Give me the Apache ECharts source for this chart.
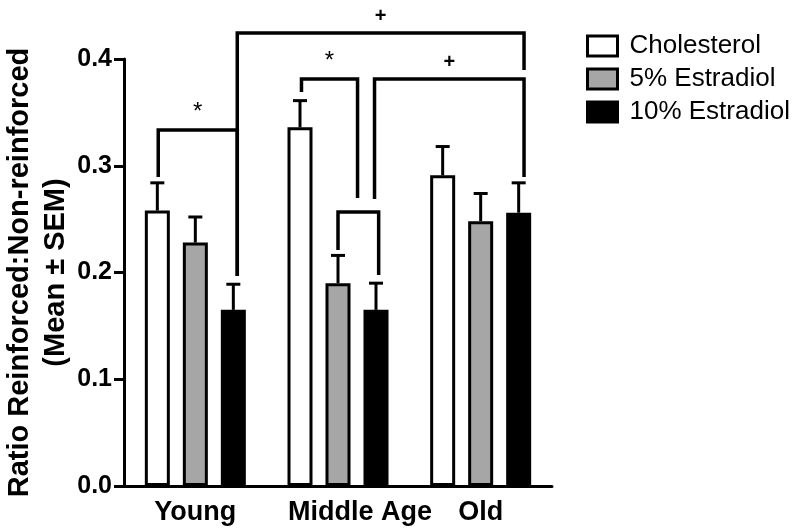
<!DOCTYPE html>
<html><head><meta charset="utf-8">
<script src="https://cdn.jsdelivr.net/npm/echarts@6/dist/echarts.min.js"></script>
<style>html,body{margin:0;padding:0;background:#fff}#c{width:800px;height:532px}</style>
</head><body><div id="c"></div>
<script>
// ---- data ----
const categories = ['Young', 'Middle Age', 'Old'];
const seriesNames = ['Cholesterol', '5% Estradiol', '10% Estradiol'];
const cholesterolMean = [0.258, 0.336, 0.291];
const cholesterolSem  = [0.026, 0.025, 0.027];
const estradiol5Mean  = [0.228, 0.190, 0.248];
const estradiol5Sem   = [0.024, 0.026, 0.026];
const estradiol10Mean = [0.165, 0.165, 0.256];
const estradiol10Sem  = [0.024, 0.025, 0.028];
const yTicks = [0, 0.1, 0.2, 0.3, 0.4];
// significance brackets (x in category units, heights in ratio units)
const bracketLabels = ['*', '+', '*', '', '+'];
const bracketX1   = [-0.26, 0.294, 0.744, 1.0, 1.256];
const bracketX2   = [0.294, 2.304, 1.137, 1.285, 2.304];
const bracketTop  = [0.3335, 0.4244, 0.3813, 0.2567, 0.3813];
const bracketEnd1 = [0.2895, 0.1967, 0.369, 0.2211, 0.2689];
const bracketEnd2 = [0.1967, 0.3897, 0.2698, 0.1977, 0.2895];

// ---- styling ----
const FONT = '"Liberation Sans", Arial, sans-serif';
const fills = ['#ffffff', '#a6a6a6', '#000000'];
const BAR_WIDTH = 25;
const BAR_GAP = 0.52;

const means = [cholesterolMean, estradiol5Mean, estradiol10Mean];
const sems = [cholesterolSem, estradiol5Sem, estradiol10Sem];

const barSeries = seriesNames.map((name, s) => ({
  type: 'bar', name: name, data: means[s],
  barWidth: BAR_WIDTH, barGap: (BAR_GAP * 100) + '%',
  itemStyle: { color: fills[s], borderColor: '#000', borderWidth: 3 },
  z: 3
}));

const errData = [];
categories.forEach((c, ci) => {
  for (let s = 0; s < 3; s++) errData.push([ci, s, means[s][ci], means[s][ci] + sems[s][ci]]);
});

const errSeries = {
  type: 'custom', data: errData, encode: { x: 0, y: 3 }, z: 2, clip: false,
  renderItem: function (params, api) {
    const c = api.value(0), s = api.value(1);
    const off = (s - 1) * BAR_WIDTH * (1 + BAR_GAP);
    const p0 = api.coord([c, api.value(2)]);
    const p1 = api.coord([c, api.value(3)]);
    const x = p0[0] + off;
    return { type: 'group', children: [
      { type: 'line', shape: { x1: x, y1: p0[1], x2: x, y2: p1[1] }, style: { stroke: '#000', lineWidth: 3 } },
      { type: 'line', shape: { x1: x - 7, y1: p1[1], x2: x + 7, y2: p1[1] }, style: { stroke: '#000', lineWidth: 3 } }
    ] };
  }
};

const bracketData = bracketLabels.map((l, i) => [bracketX1[i], bracketX2[i], bracketTop[i], bracketEnd1[i], bracketEnd2[i]]);

const bracketSeries = {
  type: 'custom', xAxisIndex: 1, yAxisIndex: 0, data: bracketData,
  encode: { x: [0, 1], y: 2 }, z: 4, clip: false,
  renderItem: function (params, api) {
    const i = params.dataIndex;
    const a = api.coord([api.value(0), api.value(2)]);
    const b = api.coord([api.value(1), api.value(2)]);
    const e1 = api.coord([api.value(0), api.value(3)]);
    const e2 = api.coord([api.value(1), api.value(4)]);
    const children = [{
      type: 'polyline',
      shape: { points: [[a[0], e1[1]], [a[0], a[1]], [b[0], b[1]], [b[0], e2[1]]] },
      style: { stroke: '#000', lineWidth: 3.5, fill: null, lineJoin: 'miter' }
    }];
    const lab = bracketLabels[i];
    if (lab) {
      const isStar = lab === '*';
      children.push({
        type: 'text', x: (a[0] + b[0]) / 2, y: a[1] - 6,
        style: { text: lab, fill: '#000', font: (isStar ? 'normal 24px ' : 'bold 20px ') + FONT,
                 align: 'center', verticalAlign: 'bottom' }
      });
    }
    return { type: 'group', children: children };
  }
};

const chart = echarts.init(document.getElementById('c'), null, { renderer: 'canvas' });
chart.setOption({
  animation: false,
  backgroundColor: '#fff',
  textStyle: { fontFamily: FONT },
  grid: { left: 124, top: 59, width: 428, bottom: 46, containLabel: false, outerBoundsMode: 'none' },
  legend: {
    data: seriesNames, orient: 'vertical', left: 581, top: 28,
    itemWidth: 30, itemHeight: 20, itemGap: 7, icon: 'rect', selectedMode: false,
    itemStyle: { borderColor: '#000', borderWidth: 3 },
    textStyle: { fontSize: 26, color: '#000', fontFamily: FONT, padding: [0, 0, 0, 7] }
  },
  xAxis: [{
    type: 'category', data: categories,
    axisLine: { onZero: false, lineStyle: { color: '#000', width: 3 } },
    axisTick: { alignWithLabel: true, length: 9, lineStyle: { color: '#000', width: 3 } },
    axisLabel: {
      interval: 0, hideOverlap: false, fontSize: 27, fontWeight: 'bold', color: '#000', margin: 13, fontFamily: FONT,
      formatter: (v, i) => i === 1 ? '{m|' + v + '}' : v,
      rich: { m: { fontSize: 27, fontWeight: 'bold', color: '#000', fontFamily: FONT, padding: [0, 0, 0, 44] } }
    }
  }, {
    type: 'value', min: -0.5, max: 2.5, show: false, axisLine: { onZero: false }
  }],
  yAxis: {
    type: 'value', min: yTicks[0], max: yTicks[yTicks.length - 1], interval: 0.1,
    splitLine: { show: false },
    axisLine: { show: true, onZero: false, lineStyle: { color: '#000', width: 3 } },
    axisTick: { show: true, length: 10, lineStyle: { color: '#000', width: 3 } },
    axisLabel: { color: '#000', fontSize: 25, fontWeight: 'bold', margin: 12, fontFamily: FONT,
                 formatter: v => v.toFixed(1) },
    name: 'Ratio Reinforced:Non-reinforced\n(Mean ± SEM)',
    nameLocation: 'middle', nameRotate: 90, nameGap: 50, nameMoveOverlap: false,
    nameTextStyle: { fontSize: 29, fontWeight: 'bold', color: '#000', lineHeight: 36, fontFamily: FONT }
  },
  series: barSeries.concat([errSeries, bracketSeries])
});
</script>
</body></html>
